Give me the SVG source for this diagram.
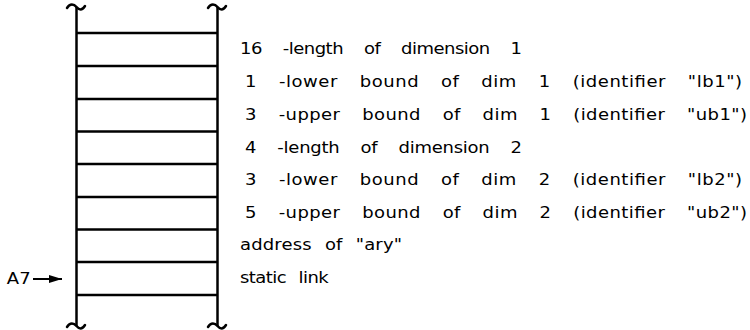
<svg xmlns="http://www.w3.org/2000/svg" width="750" height="330" viewBox="0 0 750 330">
  <defs>
    <style>
      .frame { stroke: #000; stroke-width: 2.5; fill: none; stroke-linecap: butt; }
      .tilde { stroke: #000; stroke-width: 2.5; fill: none; stroke-linecap: round; }
      .lbl { font-family: "DejaVu Sans", "Liberation Sans", sans-serif; font-size: 15px; fill: #000; word-spacing: 13px; }
      .short { word-spacing: 6px; }
      .ptr { font-family: "DejaVu Sans", "Liberation Sans", sans-serif; font-size: 15px; fill: #000; }
      .conn { stroke: #000; stroke-width: 2; fill: none; }
    </style>
    <marker id="head" markerUnits="userSpaceOnUse" markerWidth="14" markerHeight="10" refX="13" refY="5" orient="auto">
      <path d="M0,1 L13,5 L0,9 Z" fill="#000"/>
    </marker>
  </defs>
  <rect width="750" height="330" fill="#fff"/>

  <g id="stack">
    <line class="frame" x1="76.5" y1="7" x2="76.5" y2="326"/>
    <line class="frame" x1="217.5" y1="7" x2="217.5" y2="326"/>
    <path class="tilde" d="M67,8 C70,3 74,4 76.5,7 S82,11 85,6"/>
    <path class="tilde" d="M208,8 C211,3 215,4 217.5,7 S223,11 226,6"/>
    <path class="tilde" d="M67,327 C70,322 74,323 76.5,326 S82,330 85,325"/>
    <path class="tilde" d="M208,327 C211,322 215,323 217.5,326 S223,330 226,325"/>
    <line class="frame" x1="76.5" y1="33" x2="217.5" y2="33"/>
    <line class="frame" x1="76.5" y1="66" x2="217.5" y2="66"/>
    <line class="frame" x1="76.5" y1="99" x2="217.5" y2="99"/>
    <line class="frame" x1="76.5" y1="131.5" x2="217.5" y2="131.5"/>
    <line class="frame" x1="76.5" y1="164" x2="217.5" y2="164"/>
    <line class="frame" x1="76.5" y1="197" x2="217.5" y2="197"/>
    <line class="frame" x1="76.5" y1="229.5" x2="217.5" y2="229.5"/>
    <line class="frame" x1="76.5" y1="262" x2="217.5" y2="262"/>
    <line class="frame" x1="76.5" y1="295" x2="217.5" y2="295"/>
  </g>

  <g id="cell1" transform="scale(1.2,1)"><text class="lbl" x="200" y="54.5" textLength="235" lengthAdjust="spacing">16 -length of dimension 1</text></g>
  <g id="cell2" transform="scale(1.2,1)"><text class="lbl" x="204.2" y="87" textLength="414.2" lengthAdjust="spacing">1 -lower bound of dim 1 (identifier "lb1")</text></g>
  <g id="cell3" transform="scale(1.2,1)"><text class="lbl" x="204.2" y="120" textLength="418.3" lengthAdjust="spacing">3 -upper bound of dim 1 (identifier "ub1")</text></g>
  <g id="cell4" transform="scale(1.2,1)"><text class="lbl" x="204.2" y="153" textLength="230.8" lengthAdjust="spacing">4 -length of dimension 2</text></g>
  <g id="cell5" transform="scale(1.2,1)"><text class="lbl" x="204.2" y="185.5" textLength="414.2" lengthAdjust="spacing">3 -lower bound of dim 2 (identifier "lb2")</text></g>
  <g id="cell6" transform="scale(1.2,1)"><text class="lbl" x="204.2" y="218" textLength="418.3" lengthAdjust="spacing">5 -upper bound of dim 2 (identifier "ub2")</text></g>
  <g id="cell7" transform="scale(1.2,1)"><text class="lbl short" x="200" y="250.5" textLength="135" lengthAdjust="spacing">address of "ary"</text></g>
  <g id="cell8" transform="scale(1.2,1)"><text class="lbl short" x="200" y="283.5" textLength="74" lengthAdjust="spacing">static link</text></g>

  <g id="pointer-label" transform="scale(1.2,1)"><text class="ptr" x="25.5" y="284.5" text-anchor="end">A7</text></g>

  <g id="connectors">
    <line class="conn" x1="33" y1="279" x2="62" y2="279" marker-end="url(#head)"/>
  </g>
</svg>
